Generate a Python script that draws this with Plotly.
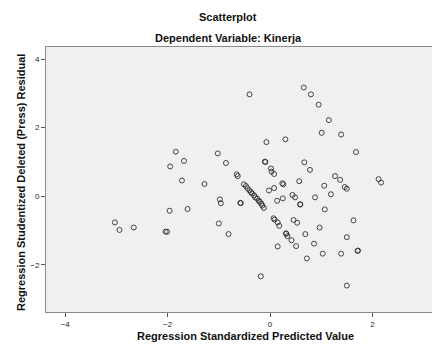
import plotly.graph_objects as go

# Regression Standardized Predicted Value
pred = [
    -0.40, 0.66, 0.80, 0.95, 1.15, 1.01, 1.39, -0.07, 0.30, 1.68,
    -1.84, -1.02, -1.68, -0.86, -1.95, -0.10, -0.09, 0.02, 0.03, 0.08,
    0.67, 0.78, 1.27, 1.37, 2.12, 2.17, 0.57, 1.06, 1.46, 1.50,
    -0.65, -0.63, 0.24, 0.26, -0.02, 0.08, -1.72, -1.28, -0.98, -0.96,
    -1.96, -1.61, -3.03, -2.94, -2.66, -2.04, -2.01, -1.00, -0.81, -0.58,
    -0.57,
    -0.51, -0.47, -0.44, -0.40, -0.37, -0.35, -0.31, -0.29, -0.25, -0.22,
    -0.20, -0.17, -0.15, -0.12,
    0.14, 0.25, 0.44, 0.49, 0.59, 0.59, 0.88, 1.19, 1.07, 0.07,
    0.09, 0.15, 0.18, 0.46, 0.53, 0.31, 0.32, 0.34, 0.42, 0.15,
    0.51, 0.69, 0.97, 0.86, 0.72, 1.03, 1.39, 1.50, 1.63, 1.71,
    1.72, 1.50, -0.18,
]
# Regression Studentized Deleted (Press) Residual
resid = [
    2.97, 3.17, 2.97, 2.67, 2.22, 1.85, 1.80, 1.58, 1.66, 1.29,
    1.30, 1.25, 1.03, 0.97, 0.87, 1.01, 1.00, 0.81, 0.72, 0.65,
    0.99, 0.77, 0.59, 0.48, 0.50, 0.40, 0.44, 0.31, 0.27, 0.22,
    0.64, 0.59, 0.38, 0.35, 0.17, 0.24, 0.46, 0.36, -0.09, -0.20,
    -0.42, -0.37, -0.76, -0.98, -0.91, -1.03, -1.03, -0.79, -1.10, -0.19,
    -0.20,
    0.35, 0.30, 0.23, 0.17, 0.12, 0.08, 0.03, -0.03, -0.07, -0.13,
    -0.16, -0.21, -0.27, -0.34,
    -0.13, -0.06, 0.04, -0.03, -0.23, -0.24, -0.03, 0.06, -0.38, -0.64,
    -0.68, -0.76, -0.86, -0.69, -0.77, -1.08, -1.09, -1.16, -1.28, -1.46,
    -1.45, -1.10, -0.91, -1.38, -1.81, -1.67, -1.67, -1.19, -0.70, -1.59,
    -1.58, -2.60, -2.33,
]

x_ticks = [-4, -2, 0, 2]
y_ticks = [-2, 0, 2, 4]

title_main = "Scatterplot"
title_sub = "Dependent Variable: Kinerja"
x_title = "Regression Standardized Predicted Value"
y_title = "Regression Studentized Deleted (Press) Residual"

FONT = "Liberation Sans, Arial, sans-serif"

fig = go.Figure()
fig.add_trace(go.Scatter(
    x=pred, y=resid, mode="markers",
    marker=dict(symbol="circle-open", size=5, color="rgba(40,40,40,0.85)",
                line=dict(width=1)),
    hoverinfo="x+y", showlegend=False,
))

W, H = 432, 344
L, R, T, B = 46, 0, 47, 32

axis_common = dict(
    showgrid=False, zeroline=False, showline=True, linecolor="#8a8a8a",
    linewidth=1, ticks="outside", ticklen=4, tickcolor="#555",
    tickfont=dict(family=FONT, size=8, color="#222"), automargin=False,
)

fig.update_layout(
    width=W, height=H,
    margin=dict(l=L, r=R, t=T, b=B, pad=0, autoexpand=False),
    paper_bgcolor="white", plot_bgcolor="#f0f0f0",
    font=dict(family=FONT, color="#111"),
    xaxis=dict(range=[-4.375, 3.164], tickvals=x_ticks, mirror=True, **axis_common),
    yaxis=dict(range=[-3.37, 4.35], tickvals=y_ticks, **axis_common),
    annotations=[
        dict(text="<b>%s</b>" % title_main, x=228, y=H - 17),
        dict(text="<b>%s</b>" % title_sub, x=228, y=H - 38),
        dict(text="<b>%s</b>" % x_title, x=246, y=H - 336),
        dict(text="<b>%s</b>" % y_title, x=21, y=H - 183, textangle=-90),
    ],
)

# convert pixel annotation positions to paper coordinates
pw, ph = W - L - R, H - T - B
for a in fig.layout.annotations:
    a.x = (a.x - L) / pw
    a.y = (a.y - B) / ph
    a.xref = "paper"
    a.yref = "paper"
    a.xanchor = "center"
    a.yanchor = "middle"
    a.showarrow = False
    a.font = dict(size=11, family=FONT, color="#111")

fig.write_html(
    "out.html",
    config={"displayModeBar": False},
    post_script="document.body.style.margin='0';document.body.style.padding='0';",
)
